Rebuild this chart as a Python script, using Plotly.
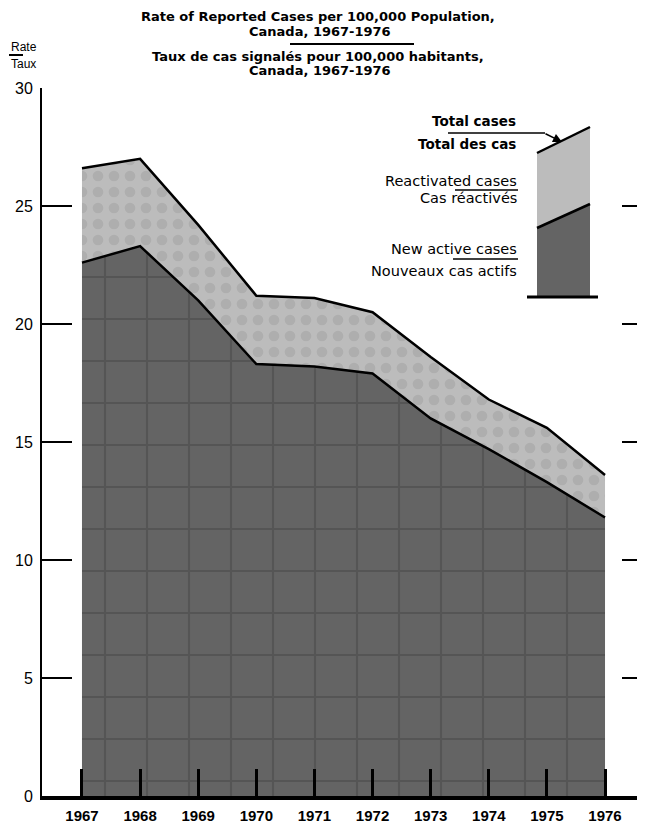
import plotly.graph_objects as go

years = [1967, 1968, 1969, 1970, 1971, 1972, 1973, 1974, 1975, 1976]
new_active = [22.6, 23.3, 21.0, 18.3, 18.2, 17.9, 16.0, 14.7, 13.3, 11.8]
total_cases = [26.6, 27.0, 24.2, 21.2, 21.1, 20.5, 18.6, 16.8, 15.6, 13.6]
year_labels = [str(y) for y in years]
y_ticks = [0, 5, 10, 15, 20, 25, 30]

# page geometry (browser body has an 8px margin)
OFF = 8
PW, PH = 645, 826
L, R, T, B = 42, 645, 88, 796
FONT = "Liberation Sans, Arial, sans-serif"
WIDE = "DejaVu Sans, Verdana, sans-serif"

def px(x):
    return (x - L) / (R - L)

def py(y):
    return (B - y) / (B - T)

DARK = "#646464"
LIGHT = "#bcbcbc"

fig = go.Figure()
fig.add_trace(go.Scatter(
    x=years, y=new_active, mode="lines", fill="tozeroy",
    fillcolor=DARK, line=dict(color="black", width=2.5),
    fillpattern=dict(shape="+", bgcolor=DARK, fgcolor="#454545",
                     size=42, solidity=0.1),
    showlegend=False, hoverinfo="skip"))
fig.add_trace(go.Scatter(
    x=years, y=total_cases, mode="lines", fill="tonexty",
    fillcolor=LIGHT, line=dict(color="black", width=2.5),
    fillpattern=dict(shape=".", bgcolor=LIGHT, fgcolor="#a0a0a0",
                     size=16, solidity=0.35),
    showlegend=False, hoverinfo="skip"))
# invisible trace carrying the right-hand tick marks
fig.add_trace(go.Scatter(x=[years[0]], y=[0], yaxis="y2", mode="markers",
                         marker=dict(opacity=0), showlegend=False,
                         hoverinfo="skip"))

shapes = []
annotations = []

def pline(x0, y0, x1, y1, w=1.5):
    shapes.append(dict(type="line", xref="paper", yref="paper",
                       x0=px(x0), y0=py(y0), x1=px(x1), y1=py(y1),
                       line=dict(color="black", width=w)))

def text(s, x, y, size=13, bold=False, anchor="center", family=WIDE):
    if bold:
        s = "<b>" + s + "</b>"
    annotations.append(dict(text=s, xref="paper", yref="paper",
                            x=px(x), y=py(y), xanchor=anchor, yanchor="middle",
                            showarrow=False,
                            font=dict(family=family, size=size, color="black")))

# Title
text("Rate of Reported Cases per 100,000 Population,", 318, 17, 13, True)
text("Canada, 1967-1976", 320, 31.5, 13, True)
pline(290, 44, 414, 44, 2)
text("Taux de cas signalés pour 100,000 habitants,", 318, 56.5, 13, True)
text("Canada, 1967-1976", 320, 71, 13, True)

# Rate / Taux
text("Rate", 9, 47, 12, anchor="left", family=FONT)
pline(9, 55, 23, 55, 2)
text("Taux", 9, 64, 12, anchor="left", family=FONT)

# Legend texts
text("Total cases", 518, 121, 13.5, True, "right")
text("Total des cas", 518, 144, 13.5, True, "right")
text("Reactivated cases", 519, 181, 14.5, False, "right")
pline(455, 190, 518, 190, 1.5)
text("Cas réactivés", 519, 198, 14.5, False, "right")
text("New active cases", 519, 249, 14.5, False, "right")
pline(453, 259, 518, 259, 1.5)
text("Nouveaux cas actifs", 519, 271, 14.5, False, "right")

# Total cases leader line + arrow
pline(448, 133, 545, 133, 1.5)
annotations.append(dict(text="", xref="paper", yref="paper",
                        x=px(562), y=py(142), ax=-18, ay=-9,
                        showarrow=True, arrowhead=2, arrowsize=1.2,
                        arrowwidth=1.5, arrowcolor="black"))

# Legend swatch block
def ppath(pts, fill):
    d = "M " + " L ".join(f"{px(a):.5f},{py(b):.5f}" for a, b in pts) + " Z"
    shapes.append(dict(type="path", xref="paper", yref="paper", path=d,
                       fillcolor=fill, line=dict(width=0)))

ppath([(537, 296), (537, 228), (590, 204), (590, 296)], DARK)
ppath([(537, 228), (537, 153), (590, 127), (590, 204)], LIGHT)
pline(537, 153, 590, 127, 2.5)
pline(537, 228, 590, 204, 2.5)
pline(527, 297, 598, 297, 3)

fig.update_layout(
    width=PW - OFF, height=PH - OFF,
    margin=dict(l=L - OFF, r=PW - R, t=T - OFF, b=PH - B, pad=0),
    paper_bgcolor="white", plot_bgcolor="white",
    font=dict(family=FONT, color="black"),
    shapes=shapes, annotations=annotations,
    xaxis=dict(range=[1966.312, 1976.688], tickvals=years, ticktext=year_labels,
               ticks="inside", ticklen=27, tickwidth=2.5, tickcolor="black",
               showline=True, linecolor="black", linewidth=3.5,
               showgrid=False, zeroline=False,
               tickfont=dict(family=FONT, size=15, color="black",
                             weight="bold"),
               ticklabelstandoff=3),
    yaxis=dict(range=[0, 30], tickvals=y_ticks,
               ticks="inside", ticklen=30, tickwidth=2, tickcolor="black",
               showline=True, linecolor="black", linewidth=2,
               showgrid=False, zeroline=False,
               tickfont=dict(family=FONT, size=16, color="black"),
               ticklabelstandoff=4),
    yaxis2=dict(range=[0, 30], overlaying="y", side="right",
                tickvals=[5, 10, 15, 20, 25, 30],
                ticks="inside", ticklen=23, tickwidth=2, tickcolor="black",
                showline=False, showgrid=False, zeroline=False,
                showticklabels=False),
)

fig.write_html("out.html")
